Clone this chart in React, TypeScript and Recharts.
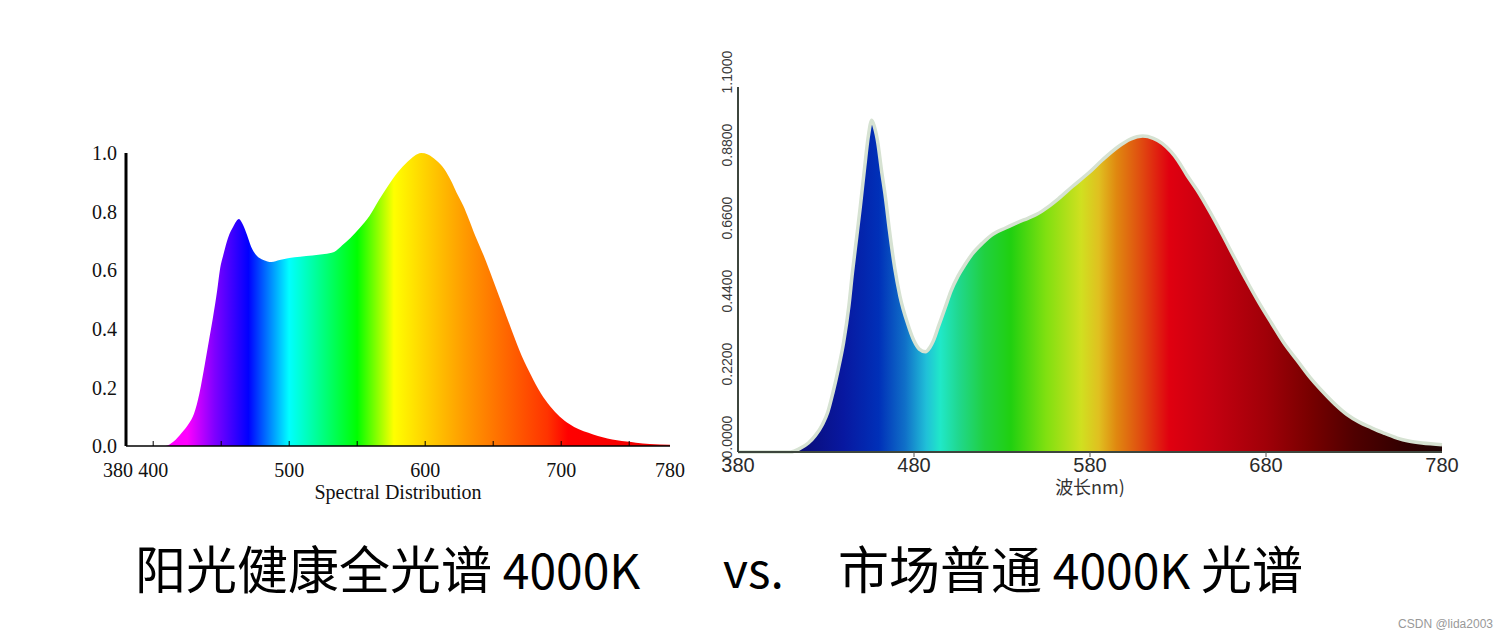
import React from 'react';
import { AreaChart, Area, XAxis, YAxis, Label } from 'recharts';

// left: "阳光健康全光谱" spectrum
const leftWavelengths = [380, 400, 409, 415, 421, 426, 430, 434, 438, 441, 444, 447, 449, 452, 455, 459, 463, 466, 469, 472, 476, 481, 487, 493, 500, 508, 517, 526, 533, 539, 545, 552, 559, 566, 573, 580, 587, 592, 597, 602, 608, 614, 619, 623, 628, 632, 637, 643, 650, 657, 664, 671, 678, 685, 692, 699, 706, 713, 720, 727, 734, 741, 748, 755, 765, 780];
const leftValues = [0, 0, 0, 0.015, 0.045, 0.075, 0.11, 0.18, 0.28, 0.36, 0.44, 0.53, 0.6, 0.66, 0.71, 0.75, 0.775, 0.755, 0.72, 0.68, 0.65, 0.635, 0.628, 0.635, 0.642, 0.646, 0.65, 0.655, 0.662, 0.685, 0.71, 0.745, 0.785, 0.84, 0.89, 0.935, 0.97, 0.99, 1.0, 0.995, 0.975, 0.945, 0.905, 0.865, 0.82, 0.775, 0.715, 0.65, 0.565, 0.478, 0.39, 0.307, 0.24, 0.18, 0.135, 0.1, 0.075, 0.057, 0.045, 0.034, 0.026, 0.02, 0.015, 0.011, 0.007, 0.004];
const leftXTicks = [380, 400, 450, 500, 550, 600, 650, 700, 750, 780];
const leftXLabels = [380, 400, 500, 600, 700, 780];
const leftYTicks = [0, 0.2, 0.4, 0.6, 0.8, 1.0];

// right: "市场普通" spectrum
const rightWavelengths = [380, 400, 410, 415, 420, 424, 428, 431, 434, 437, 440, 443, 445, 447.5, 449.5, 452, 454, 456, 457.5, 459.5, 461.5, 463.7, 466, 469, 472, 476.5, 480, 483, 486.5, 489, 491, 494, 497.7, 501, 505, 509, 513, 519, 525, 532, 539, 545, 550, 556, 562, 570, 579, 587, 596, 603, 610, 616, 621, 626, 630, 635, 641, 648, 655, 662, 669, 676, 683.5, 690, 698, 705, 712, 719, 726, 733, 740, 747, 754.5, 761, 768.6, 775, 780];
const rightValues = [0, 0, 0, 0.01, 0.027, 0.05, 0.083, 0.12, 0.18, 0.25, 0.33, 0.44, 0.54, 0.65, 0.74, 0.86, 0.95, 1.0, 0.98, 0.93, 0.85, 0.77, 0.67, 0.556, 0.47, 0.385, 0.335, 0.31, 0.302, 0.315, 0.335, 0.38, 0.435, 0.485, 0.53, 0.565, 0.596, 0.63, 0.657, 0.675, 0.692, 0.705, 0.717, 0.738, 0.763, 0.8, 0.84, 0.88, 0.92, 0.943, 0.952, 0.945, 0.93, 0.905, 0.878, 0.835, 0.788, 0.725, 0.657, 0.586, 0.516, 0.45, 0.385, 0.33, 0.274, 0.225, 0.183, 0.145, 0.113, 0.09, 0.073, 0.057, 0.042, 0.033, 0.027, 0.024, 0.022];
const rightXTicks = [380, 480, 580, 680, 780];
const rightYTicks = [0, 0.22, 0.44, 0.66, 0.88, 1.1];

const leftStops: [number, string][] = [
  [405, '#ff00ff'], [425, '#ff00ff'], [445, '#8000ff'], [470, '#0000ff'], [500, '#00ffff'],
  [520, '#00ff99'], [550, '#00ff00'], [577, '#ffff00'], [600, '#ffd200'], [630, '#ff9900'],
  [660, '#ff6600'], [690, '#ff3300'], [705, '#ff0000'], [780, '#ee0000'],
];
const rightStops: [number, string][] = [
  [410, '#0a0a70'], [440, '#0818a0'], [460, '#0030b8'], [475, '#1070c8'], [487, '#20c0d8'],
  [495, '#20e8c8'], [505, '#20d890'], [520, '#20d040'], [535, '#20d010'], [555, '#80e010'],
  [575, '#d0e020'], [585, '#e0c020'], [595, '#e08810'], [608, '#e05010'], [625, '#e00010'],
  [650, '#c40010'], [680, '#a00008'], [705, '#780000'], [730, '#500000'], [760, '#300000'],
  [780, '#200404'],
];

const leftData = leftWavelengths.map((wl, i) => ({ wl, v: leftValues[i] }));
const rightData = rightWavelengths.map((wl, i) => ({ wl, v: rightValues[i] }));

const serif = "'Liberation Serif', 'Times New Roman', serif";
const sans = "'Liberation Sans', Arial, sans-serif";
const cjk = "'Noto Sans CJK SC', sans-serif";

const LeftXTick = (props: any) => {
  const { x, y, payload } = props;
  const v = payload.value;
  return (
    <g>
      {v > 380 && v < 780 && <line x1={x} x2={x} y1={y} y2={y - 5} stroke="#000" strokeWidth={1} />}
      {leftXLabels.includes(v) && (
        <text x={x + (v === 380 ? -8 : 0)} y={y + 31} textAnchor="middle" fontFamily={serif} fontSize={20} fill="#111">
          {v}
        </text>
      )}
    </g>
  );
};

const RightXTick = (props: any) => {
  const { x, y, payload } = props;
  const v = payload.value;
  return (
    <g>
      {v > 380 && v < 780 && <line x1={x} x2={x} y1={y} y2={y + 5} stroke="#555" strokeWidth={1} />}
      <text x={x} y={y + 20} textAnchor="middle" fontFamily={sans} fontSize={20} fill="#2a2a2a">
        {v}
      </text>
    </g>
  );
};

const RightYTick = (props: any) => {
  const { x, y, payload } = props;
  const cx = x - 11;
  const cy = y - 15;
  return (
    <text x={cx} y={cy} transform={`rotate(-90 ${cx} ${cy})`} textAnchor="middle" dominantBaseline="central"
      fontFamily={sans} fontSize={14} fill="#3a3a3a">
      {payload.value.toFixed(4)}
    </text>
  );
};

const gradient = (id: string, stops: [number, string][]) => (
  <defs>
    <linearGradient id={id} x1="0" y1="0" x2="1" y2="0">
      {stops.map(([wl, c]) => (
        <stop key={wl} offset={`${((wl - 380) / 400) * 100}%`} stopColor={c} />
      ))}
    </linearGradient>
  </defs>
);

const captionStyle: React.CSSProperties = {
  position: 'absolute',
  top: 542,
  fontFamily: cjk,
  fontSize: 48,
  lineHeight: '50px',
  color: '#000',
  whiteSpace: 'pre',
};
const han: React.CSSProperties = { fontSize: 51 };

export default function App() {
  return (
    <div style={{ position: 'absolute', left: 0, top: 0, width: 1508, height: 640, background: '#fff', overflow: 'hidden' }}>
      <div style={{ position: 'absolute', left: 0, top: 0 }}>
        <AreaChart width={700} height={520} data={leftData} margin={{ top: 153, right: 30, bottom: 0, left: 0 }}>
          {gradient('leftSpec', leftStops)}
          <XAxis
            type="number"
            dataKey="wl"
            domain={[380, 780]}
            ticks={leftXTicks}
            interval={0}
            height={74}
            tickSize={0}
            tickMargin={0}
            tick={<LeftXTick />}
            axisLine={{ stroke: '#000', strokeWidth: 1.5 }}
          >
            <Label value="Spectral Distribution" position="insideBottom" offset={21}
              style={{ fontFamily: serif, fontSize: 20, fill: '#111' }} />
          </XAxis>
          <YAxis
            type="number"
            domain={[0, 1]}
            ticks={leftYTicks}
            interval={0}
            width={126}
            tickSize={0}
            tickMargin={9}
            tickFormatter={(v: number) => v.toFixed(1)}
            tick={{ fontFamily: serif, fontSize: 20, fill: '#111' }}
            axisLine={{ stroke: '#000', strokeWidth: 3 }}
          />
          <Area type="monotone" dataKey="v" fill="url(#leftSpec)" fillOpacity={1} stroke="none"
            isAnimationActive={false} dot={false} activeDot={false} />
        </AreaChart>
      </div>

      <div style={{ position: 'absolute', left: 700, top: 40 }}>
        <AreaChart width={780} height={470} data={rightData} margin={{ top: 47, right: 38, bottom: 0, left: 0 }}>
          {gradient('rightSpec', rightStops)}
          <XAxis
            type="number"
            dataKey="wl"
            domain={[380, 780]}
            ticks={rightXTicks}
            interval={0}
            height={58}
            tickSize={0}
            tickMargin={0}
            tick={<RightXTick />}
            axisLine={{ stroke: '#3d463d', strokeWidth: 2 }}
          >
            <Label value="波长nm)" position="insideBottom" offset={16}
              style={{ fontFamily: cjk, fontSize: 18, fill: '#333' }} />
          </XAxis>
          <YAxis
            type="number"
            domain={[0, 1.1]}
            ticks={rightYTicks}
            interval={0}
            width={38}
            tickSize={0}
            tickMargin={0}
            tick={<RightYTick />}
            axisLine={{ stroke: '#3d463d', strokeWidth: 2 }}
          />
          <Area type="monotone" dataKey="v" fill="url(#rightSpec)" fillOpacity={1} stroke="#d6e2d2" strokeWidth={3.5}
            isAnimationActive={false} dot={false} activeDot={false} />
        </AreaChart>
      </div>

      <div style={{ ...captionStyle, left: 135 }}><span style={han}>阳光健康全光谱</span> 4000K</div>
      <div style={{ ...captionStyle, left: 723 }}>vs.</div>
      <div style={{ ...captionStyle, left: 838 }}><span style={han}>市场普通</span> 4000K <span style={han}>光谱</span></div>

      <div style={{ position: 'absolute', right: 15, top: 617, fontFamily: sans, fontSize: 12, color: '#999' }}>
        CSDN @lida2003
      </div>
    </div>
  );
}
